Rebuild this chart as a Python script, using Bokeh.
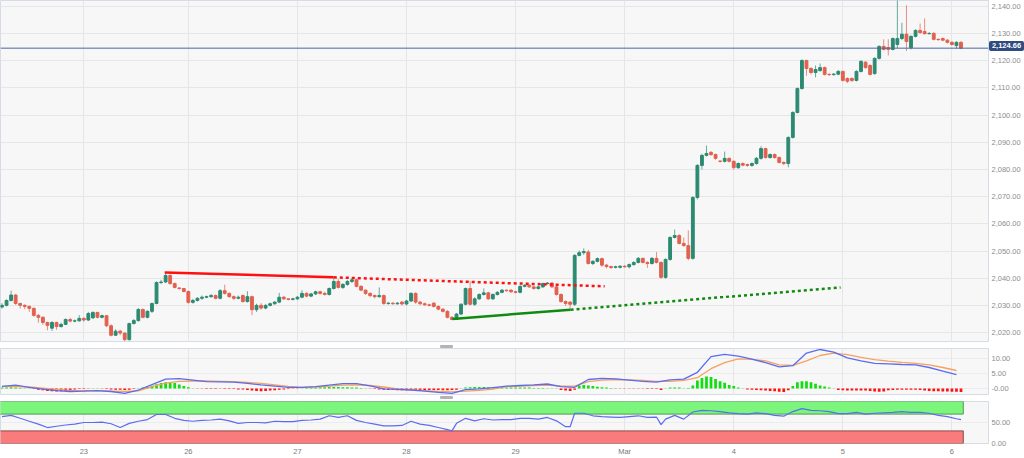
from bokeh.plotting import figure
from bokeh.layouts import column
from bokeh.models import (ColumnDataSource, Range1d, FixedTicker, NumeralTickFormatter,
                          Span, Grid, LinearAxis, Div)
from bokeh.embed import file_html
from bokeh.resources import INLINE

# ---------------- data (hourly XAU/USD candles) ----------------
opens = [2029.4,2030.0,2031.8,2033.8,2030.7,2030.0,2029.6,2028.9,2026.3,2025.6,
         2023.7,2021.6,2023.7,2022.2,2023.0,2024.8,2024.2,2024.3,2025.2,2024.6,
         2025.4,2027.4,2025.6,2026.2,2022.5,2019.0,2020.5,2019.8,2017.4,2023.3,
         2024.4,2028.5,2025.6,2027.8,2030.7,2038.4,2038.6,2041.0,2038.0,2036.4,
         2036.2,2035.1,2031.1,2031.8,2032.6,2033.0,2033.2,2033.6,2032.6,2035.4,
         2034.4,2033.2,2032.6,2033.6,2031.4,2033.2,2028.4,2030.0,2029.0,2030.0,
         2030.6,2031.2,2033.0,2032.4,2032.2,2032.4,2033.0,2034.4,2033.4,2034.2,
         2035.0,2034.4,2034.0,2036.2,2038.8,2036.6,2037.7,2038.8,2039.4,2037.0,
         2035.6,2034.4,2033.6,2033.2,2033.6,2030.7,2030.8,2030.6,2031.2,2030.5,
         2031.6,2034.4,2031.2,2030.6,2030.2,2030.8,2029.6,2028.6,2027.8,2025.6,
         2024.8,2026.8,2030.4,2036.2,2030.4,2032.4,2034.0,2034.6,2032.4,2034.0,
         2034.8,2035.6,2035.6,2035.0,2034.8,2037.0,2037.4,2036.8,2036.2,2036.8,
         2038.0,2038.2,2036.8,2034.0,2031.4,2031.2,2030.4,2048.4,2049.4,2049.6,
         2045.4,2046.2,2047.2,2044.8,2044.3,2044.0,2044.0,2044.4,2044.2,2045.0,
         2045.8,2047.3,2045.8,2045.4,2047.3,2045.8,2040.3,2046.9,2055.0,2055.7,
         2052.8,2052.0,2047.3,2069.7,2081.5,2085.2,2086.3,2085.5,2083.1,2083.0,
         2084.1,2083.0,2080.7,2082.2,2081.8,2081.5,2082.2,2084.1,2087.7,2084.4,
         2085.5,2084.4,2082.6,2082.2,2091.8,2101.0,2109.8,2120.1,2117.2,2115.7,
         2116.4,2117.5,2115.0,2114.9,2115.1,2116.1,2113.5,2113.5,2112.8,2116.1,
         2119.5,2118.3,2115.3,2120.9,2125.3,2124.9,2124.2,2126.0,2128.2,2129.8,
         2124.8,2129.0,2131.2,2130.8,2130.0,2130.1,2127.9,2128.2,2127.6,2126.8,
         2125.6,2126.8]
highs = [2030.8,2032.2,2035.4,2034.2,2031.0,2030.4,2030.0,2029.2,2026.8,2026.0,
         2024.0,2024.2,2024.0,2023.6,2025.2,2025.4,2024.8,2026.4,2025.6,2027.6,
         2027.8,2027.6,2026.6,2026.4,2023.0,2021.2,2021.0,2020.0,2023.6,2025.0,
         2029.0,2028.8,2028.2,2031.0,2038.8,2039.4,2042.0,2041.4,2038.4,2036.6,
         2036.4,2035.4,2032.4,2033.0,2033.6,2033.6,2034.2,2034.0,2036.0,2037.6,
         2034.8,2033.6,2033.6,2034.0,2035.2,2033.6,2030.6,2030.8,2030.4,2031.0,
         2031.6,2034.6,2033.4,2032.6,2032.8,2033.4,2035.6,2034.8,2034.6,2035.4,
         2035.4,2035.0,2036.6,2040.0,2039.6,2038.2,2039.4,2040.0,2039.8,2037.4,
         2035.8,2034.8,2034.0,2036.6,2034.0,2031.2,2031.2,2031.2,2031.6,2032.0,
         2034.8,2034.8,2031.6,2031.0,2030.6,2031.2,2030.0,2029.0,2028.2,2026.0,
         2027.2,2030.8,2036.6,2039.0,2033.0,2034.4,2036.2,2035.0,2034.4,2035.2,
         2036.0,2035.8,2036.0,2035.4,2037.4,2037.8,2037.8,2037.2,2037.4,2038.4,
         2038.6,2038.6,2037.2,2034.4,2031.8,2031.6,2048.8,2050.2,2051.0,2050.4,
         2046.6,2047.6,2047.6,2045.2,2044.6,2044.6,2044.8,2044.8,2045.4,2046.2,
         2047.8,2047.6,2046.2,2047.8,2049.6,2046.2,2047.3,2055.4,2057.9,2056.2,
         2055.0,2057.6,2070.2,2082.0,2085.8,2088.8,2086.8,2085.9,2083.4,2086.6,
         2084.4,2083.4,2082.6,2082.6,2082.2,2082.6,2084.6,2088.6,2088.0,2085.9,
         2085.9,2084.8,2083.0,2092.2,2101.4,2110.2,2120.6,2120.4,2117.6,2118.3,
         2119.0,2117.9,2115.4,2115.5,2116.6,2116.4,2113.9,2113.9,2116.5,2120.2,
         2119.9,2118.7,2121.3,2125.7,2127.9,2127.9,2128.6,2143.0,2134.0,2140.4,
         2129.4,2131.6,2133.7,2135.6,2130.5,2130.5,2128.2,2128.6,2128.0,2127.2,
         2127.2,2127.2]
lows = [2028.8,2029.6,2031.4,2030.2,2028.8,2028.6,2027.6,2025.8,2023.6,2022.8,
        2020.8,2020.6,2021.0,2021.8,2022.8,2023.8,2023.8,2024.0,2024.0,2024.2,
        2025.0,2025.2,2025.2,2022.0,2018.6,2018.8,2019.0,2016.8,2017.0,2023.0,
        2024.0,2025.2,2025.2,2027.2,2030.4,2037.8,2038.2,2037.6,2036.2,2035.8,
        2034.8,2030.6,2030.6,2031.4,2032.0,2032.6,2032.8,2032.2,2032.2,2034.0,
        2032.8,2032.0,2032.2,2031.0,2031.0,2026.4,2027.6,2028.4,2028.6,2029.6,
        2030.2,2030.8,2032.0,2031.8,2031.8,2032.0,2032.6,2033.0,2033.0,2033.8,
        2034.0,2033.6,2033.6,2035.8,2036.2,2036.0,2037.2,2038.2,2036.6,2035.2,
        2033.8,2033.0,2032.6,2032.8,2030.2,2030.2,2030.2,2030.2,2030.0,2030.0,
        2031.2,2030.6,2030.0,2029.8,2029.6,2029.2,2028.2,2027.4,2025.2,2024.6,
        2024.6,2026.4,2030.0,2030.0,2029.8,2032.0,2033.6,2032.0,2032.0,2033.6,
        2034.4,2035.0,2034.6,2034.4,2034.4,2036.6,2036.4,2035.8,2035.8,2036.4,
        2037.6,2036.4,2033.6,2031.0,2029.8,2028.6,2029.8,2048.0,2048.6,2045.0,
        2044.8,2045.8,2044.2,2043.6,2043.4,2043.6,2043.6,2043.8,2043.6,2044.6,
        2045.4,2045.4,2043.8,2045.0,2045.4,2039.8,2039.8,2046.4,2054.6,2052.4,
        2051.6,2046.6,2046.8,2069.0,2080.0,2084.8,2085.0,2083.6,2082.6,2082.6,
        2082.6,2080.0,2080.2,2081.2,2081.0,2081.0,2081.8,2083.6,2084.0,2084.0,
        2084.0,2082.2,2081.6,2080.8,2091.4,2100.6,2109.4,2114.5,2115.0,2113.9,
        2116.0,2114.6,2114.5,2114.6,2114.7,2112.4,2111.8,2112.2,2112.4,2115.7,
        2117.1,2114.6,2114.9,2120.5,2123.8,2122.0,2123.8,2124.6,2127.6,2123.6,
        2124.2,2128.6,2130.0,2129.6,2129.6,2127.5,2127.4,2127.2,2126.4,2125.6,
        2124.4,2124.3]
closes = [2030.0,2031.8,2033.8,2030.7,2030.0,2029.6,2028.9,2026.3,2025.6,2023.7,
          2022.6,2023.7,2022.2,2023.0,2024.8,2024.2,2024.3,2025.2,2024.6,2027.0,
          2027.4,2025.6,2026.2,2022.5,2019.0,2020.5,2019.8,2017.4,2023.3,2024.4,
          2028.5,2025.6,2027.8,2030.7,2038.4,2038.6,2041.0,2038.0,2036.6,2036.2,
          2035.1,2031.1,2031.8,2032.6,2033.0,2033.2,2033.6,2032.6,2035.4,2034.4,
          2033.2,2032.6,2033.0,2031.4,2033.2,2028.4,2030.0,2029.0,2030.0,2030.6,
          2031.2,2033.0,2032.4,2032.2,2032.4,2033.0,2034.4,2033.4,2034.2,2035.0,
          2034.4,2034.0,2036.2,2038.8,2036.6,2037.7,2038.8,2039.4,2037.0,2035.6,
          2034.4,2033.6,2033.2,2033.6,2030.7,2030.8,2030.6,2030.8,2030.5,2031.6,
          2034.4,2031.2,2030.6,2030.2,2030.0,2029.6,2028.6,2027.8,2025.6,2024.8,
          2026.8,2030.4,2036.2,2030.4,2032.4,2034.0,2034.6,2032.4,2034.0,2034.8,
          2035.6,2035.4,2035.0,2034.8,2037.0,2037.4,2036.8,2036.2,2036.8,2038.0,
          2038.2,2036.8,2034.0,2031.4,2030.7,2030.4,2048.4,2049.4,2049.8,2045.4,
          2046.2,2047.2,2044.8,2044.3,2043.9,2044.2,2044.4,2044.2,2045.0,2045.8,
          2047.3,2045.8,2045.4,2047.3,2045.8,2040.3,2046.9,2055.0,2055.7,2052.8,
          2052.0,2047.3,2069.7,2081.5,2085.2,2085.9,2085.5,2084.1,2083.0,2084.1,
          2083.0,2080.7,2082.2,2081.6,2081.5,2082.2,2084.1,2087.7,2084.4,2085.5,
          2084.4,2082.6,2082.2,2091.8,2101.0,2109.8,2120.1,2117.2,2115.7,2116.8,
          2117.5,2115.0,2114.9,2115.1,2116.1,2112.8,2112.5,2112.8,2116.1,2119.8,
          2117.5,2115.0,2120.9,2125.3,2124.2,2124.2,2128.2,2128.2,2129.8,2127.1,
          2129.0,2131.2,2130.4,2130.0,2130.1,2127.9,2127.8,2127.6,2126.8,2126.0,
          2126.8,2124.66]

# day boundaries (candle index) and their labels
day_pos = [18, 41, 65, 89, 113, 137, 161, 185, 209]
day_labels = ["23", "26", "27", "28", "29", "Mar", "4", "5", "6"]

# trend lines (candle index, price)
res_solid_x, res_solid_y = [35.8, 73.0], [2042.1, 2040.3]
res_dot_x, res_dot_y = [73.0, 132.6], [2040.3, 2037.0]
sup_solid_x, sup_solid_y = [99.1, 125.1], [2025.0, 2028.4]
sup_dot_x, sup_dot_y = [125.1, 184.5], [2028.4, 2036.6]

# MACD (sampled every 3rd candle)
macd_vals = [0.7,1.1,0.4,-0.2,-0.7,-1.0,-0.9,-0.7,-1.0,-1.6,
             -0.5,1.3,3.1,3.3,2.8,2.3,2.2,2.1,1.7,1.2,
             0.8,0.4,0.4,0.6,1.1,1.6,1.6,0.9,-0.1,-0.3,
             -0.5,-0.9,-1.3,-1.6,-0.4,-0.1,0.3,0.8,1.0,1.2,
             1.5,0.6,0.4,3.0,3.4,3.2,2.8,2.4,2.1,2.9,
             3.1,5.4,10.6,11.4,10.8,9.8,8.6,7.2,7.6,11.8,
             13.0,12.1,10.2,9.2,8.4,8.2,8.0,7.9,7.0,5.8,4.6]
signal_vals = [0.7,0.6,0.5,0.1,-0.3,-0.6,-0.7,-0.8,-0.9,-1.0,
               -0.8,0.6,1.8,2.4,2.5,2.5,2.4,2.3,2.0,1.7,
               1.2,0.7,0.4,0.5,0.8,1.1,1.2,1.0,0.5,-0.1,
               -0.4,-0.7,-1.0,-1.1,-0.9,-0.6,-0.2,0.6,0.8,1.0,
               1.1,0.8,0.8,2.3,2.8,3.0,2.9,2.7,2.4,2.4,
               2.7,3.6,6.6,8.6,9.9,9.7,9.2,7.9,7.7,9.2,
               11.0,11.8,11.3,10.4,9.6,9.1,8.7,8.4,7.9,7.0,6.0]
macd_idx = list(range(0, 211, 3))
hist_vals = [0.3,0.3,0.4,0.3,0.2,0.1,0.1,-0.2,-0.4,-0.6,
             -0.8,-0.9,-1.0,-0.9,-0.8,-0.5,-0.3,-0.2,-0.2,-0.1,
             0.1,0.1,-0.1,-0.2,-0.3,-0.4,-0.4,-0.5,-0.4,-0.2,
             0.1,0.3,0.5,0.9,1.4,1.8,2.1,2.0,1.8,1.3,
             0.8,0.4,0.1,-0.1,-0.1,-0.2,-0.2,-0.2,-0.1,-0.2,
             -0.2,-0.2,-0.3,-0.3,-0.5,-0.7,-0.8,-0.9,-0.8,-0.7,
             -0.6,-0.4,-0.3,-0.2,-0.1,-0.1,0.1,0.2,0.3,0.3,
             0.4,0.4,0.5,0.5,0.5,0.4,0.4,0.3,0.3,0.2,
             0.1,-0.1,-0.2,-0.3,-0.4,-0.5,-0.5,-0.6,-0.6,-0.6,
             -0.6,-0.6,-0.6,-0.5,-0.5,-0.5,-0.5,-0.6,-0.6,-0.5,
             -0.4,0.1,0.3,0.4,0.5,0.5,0.5,0.4,0.4,0.4,
             0.3,0.3,0.3,0.3,0.3,0.3,0.3,0.2,0.2,0.2,
             0.1,0.1,0.1,-0.5,-0.7,-0.8,-0.4,1.0,1.2,1.0,
             0.8,0.6,0.4,0.3,0.2,-0.1,-0.1,-0.1,-0.1,-0.1,
             -0.1,-0.1,-0.2,-0.2,-0.2,-0.5,0.1,0.3,0.3,0.3,
             0.1,0.2,1.0,2.7,3.5,4.0,3.8,3.2,2.4,1.9,
             1.2,0.8,0.3,0.1,-0.3,-0.4,-0.5,-0.6,-0.7,-0.8,
             -0.9,-1.1,-1.2,-0.6,0.8,2.1,2.4,2.4,2.1,1.6,
             1.0,0.7,0.3,0.1,-0.5,-0.6,-0.7,-0.7,-0.7,-0.7,
             -0.7,-0.8,-1.0,-1.1,-1.0,-0.6,-0.5,-0.4,-0.4,-0.4,
             -0.4,-0.4,-0.5,-0.7,-0.8,-0.9,-0.9,-1.0,-1.0,-1.1,
             -1.1,-1.2]

# RSI (candle index, value)
rsi_idx = [0,2,4,6,8,10,12,14,16,18,20,22,24,26,28,30,32,34,36,38,
           40,42,44,46,48,50,52,54,56,58,60,62,64,66,68,70,72,74,76,78,
           80,82,84,86,88,90,92,94,96,98,99,100,102,104,106,108,110,112,114,116,
           118,120,122,124,125,126,128,130,132,134,136,138,140,142,144,145,146,148,150,152,
           154,156,158,160,162,164,166,168,170,172,174,176,178,180,182,184,186,188,190,192,
           194,196,198,200,202,204,206,208,210,211]
rsi_vals = [64,67,60,53,46,38,41,44,46,50,50,51,47,38,48,53,57,69,69,60,
            55,53,55,56,58,54,48,50,50,49,53,52,52,55,56,58,66,62,66,55,
            50,46,42,42,43,53,46,43,38,33,30,48,60,54,59,56,57,57,60,60,
            58,62,54,40,40,72,72,66,64,63,62,64,66,62,63,45,58,67,58,75,
            79,78,76,73,71,70,73,71,67,65,76,83,79,78,76,71,71,74,70,72,
            73,74,76,74,74,72,67,64,59,57]
rsi_upper, rsi_lower = 70, 30

# ---------------- styling ----------------
UP, DOWN = "#2c8a72", "#e2604f"
BG = "#f7f7f7"
GRID = "#e6e6e6"
OUTLINE = "#d6dbe6"
FONT = "Liberation Sans"
W = 1024
RB = 36
X0, X1 = -0.33, 217.05

n = len(closes)
xs = list(range(n))
colors = [UP if c >= o else DOWN for o, c in zip(opens, closes)]
src = ColumnDataSource(dict(
    x=xs, o=opens, h=highs, l=lows, c=closes,
    top=[max(o, c) for o, c in zip(opens, closes)],
    bot=[min(o, c) for o, c in zip(opens, closes)],
    col=colors))


def base(height, yr, top, bottom):
    f = figure(width=W, height=height, x_range=Range1d(X0, X1), y_range=yr,
               output_backend="svg", toolbar_location=None,
               x_axis_location=None, y_axis_location="right",
               min_border_left=0, min_border_right=RB,
               min_border_top=top, min_border_bottom=bottom,
               background_fill_color=BG, border_fill_color="white",
               outline_line_color=OUTLINE)
    f.xgrid.visible = False
    f.add_layout(Grid(dimension=0, ticker=FixedTicker(ticks=day_pos),
                      grid_line_color=GRID))
    f.ygrid.grid_line_color = GRID
    ax = f.yaxis[0]
    ax.axis_line_color = None
    ax.major_tick_line_color = None
    ax.minor_tick_line_color = None
    ax.major_tick_out = 0
    ax.major_tick_in = 0
    ax.minor_tick_out = 0
    ax.minor_tick_in = 0
    ax.major_label_text_font = FONT
    ax.major_label_text_font_size = "7.5px"
    ax.major_label_text_color = "#8c8c8c"
    ax.major_label_standoff = 3
    return f

# ---- price panel ----
p = base(342, Range1d(2016.33, 2142.2), 0, 0)
p.yaxis.ticker = FixedTicker(ticks=list(range(2020, 2141, 10)))
p.yaxis.formatter = NumeralTickFormatter(format="0,0.00")
p.segment(x0="x", y0="l", x1="x", y1="h", source=src, line_color="col", line_width=1, line_alpha=0.7)
p.vbar(x="x", width=0.62, top="top", bottom="bot", source=src,
       fill_color="col", line_color="col", line_width=1)

p.line(res_solid_x, res_solid_y, line_color="#ff1010", line_width=2.5)
p.line(res_dot_x, res_dot_y, line_color="#ff1010", line_width=2.5, line_dash="3 3")
p.line(sup_solid_x, sup_solid_y, line_color="#108a10", line_width=2.5)
p.line(sup_dot_x, sup_dot_y, line_color="#108a10", line_width=2.5, line_dash="3 3")

last = closes[-1]
p.add_layout(Span(location=last, dimension="width", line_color="#4a67a0", line_width=1))

# price tag overlaid on the axis area (sits at the last price, net height 0 in the column)
tag_top = 41
tag = Div(text=f"{last:,.2f}", width=35, height=10,
          margin=(tag_top - 342, 0, 342 - tag_top - 10, 989),
          styles={"background-color": "#2f4b80", "color": "white",
                  "font-family": "Liberation Sans", "font-size": "7.5px",
                  "font-weight": "bold", "line-height": "10px", "text-align": "center",
                  "position": "relative", "z-index": "10", "border-radius": "2px"})

# ---- MACD panel ----
m = base(53, Range1d(-2.33, 13.33), 6, 0)
m.yaxis.ticker = FixedTicker(ticks=[0, 5, 10])
m.yaxis.major_label_overrides = {0: "-0.00", 5: "5.00", 10: "10.00"}
m.ygrid.grid_line_color = "#ececec"
hist_src = ColumnDataSource(dict(
    x=list(range(len(hist_vals))), top=[max(v, 0) for v in hist_vals],
    bot=[min(v, 0) for v in hist_vals],
    col=["#11dd11" if v >= 0 else "#ff1111" for v in hist_vals]))
m.vbar(x="x", width=0.6, top="top", bottom="bot", source=hist_src,
       fill_color="col", line_color=None)
m.line(macd_idx, signal_vals, line_color="#f5a25d", line_width=1.3)
m.line(macd_idx, macd_vals, line_color="#5b6cf2", line_width=1.3)

# ---- RSI panel ----
r = base(63, Range1d(0, 100), 6, 13)
r.yaxis.ticker = FixedTicker(ticks=[0, 50])
r.yaxis.formatter = NumeralTickFormatter(format="0.00")
r.ygrid.grid_line_color = "#ececec"
r.quad(left=X0 - 2, right=n - 0.5, bottom=rsi_upper, top=100,
       fill_color="#7bf57b", line_color="#4f9a4f", line_width=1)
r.quad(left=X0 - 2, right=n - 0.5, bottom=0, top=rsi_lower,
       fill_color="#fa7b7b", line_color="#8a4a4a", line_width=1)
r.line(rsi_idx, rsi_vals, line_color="#5b6cf2", line_width=1.2)
xa = LinearAxis(ticker=FixedTicker(ticks=day_pos),
                major_label_overrides={pos: lab for pos, lab in zip(day_pos, day_labels)})
xa.axis_line_color = None
xa.major_tick_line_color = None
xa.minor_tick_line_color = None
xa.major_tick_out = 0
xa.major_tick_in = 0
xa.major_label_text_font = FONT
xa.major_label_text_font_size = "7.5px"
xa.major_label_text_color = "#7a7a7a"
xa.major_label_standoff = 3
r.add_layout(xa, "below")


def handle(top_gap):
    return Div(text="", width=13, height=3, margin=(top_gap, 0, -(top_gap + 3), 440),
               styles={"background-color": "#b4b4b4", "position": "relative",
                       "z-index": "10", "border-radius": "1px"})


layout = column(p, tag, handle(3), m, handle(1), r, spacing=0)
open("out.html", "w").write(file_html(layout, INLINE))
